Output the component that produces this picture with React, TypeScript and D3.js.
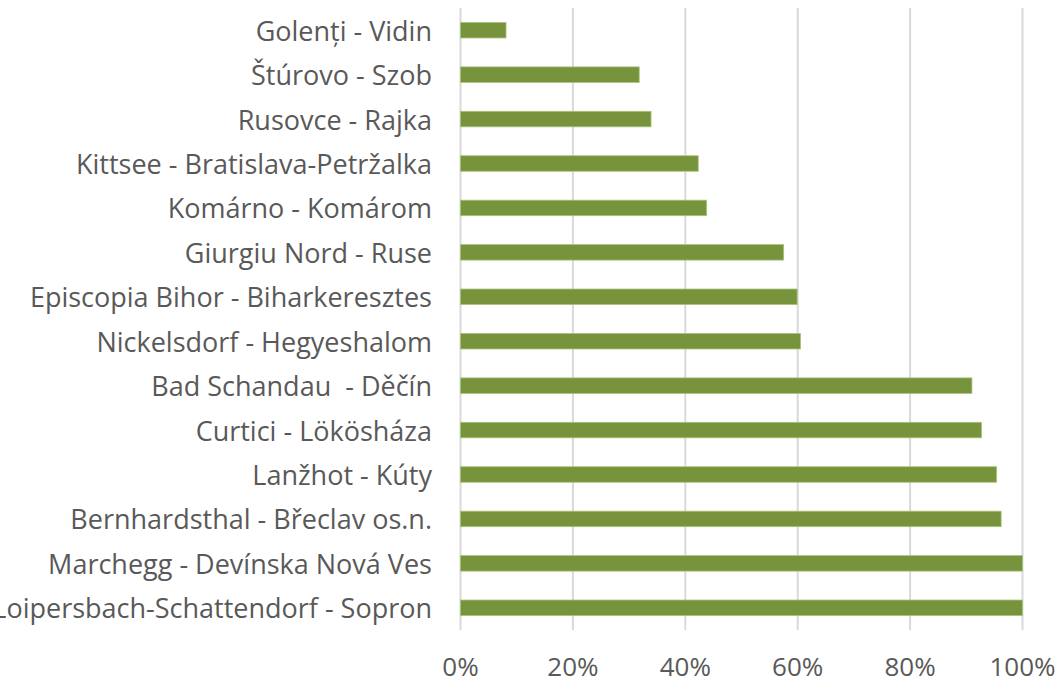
import React from "react";
import * as d3 from "d3";

const categories: string[] = [
  "Golenți - Vidin",
  "Štúrovo - Szob",
  "Rusovce - Rajka",
  "Kittsee - Bratislava-Petržalka",
  "Komárno - Komárom",
  "Giurgiu Nord - Ruse",
  "Episcopia Bihor - Biharkeresztes",
  "Nickelsdorf - Hegyeshalom",
  "Bad Schandau  - Děčín",
  "Curtici - Lökösháza",
  "Lanžhot - Kúty",
  "Bernhardsthal - Břeclav os.n.",
  "Marchegg - Devínska Nová Ves",
  "Loipersbach-Schattendorf - Sopron",
];

const values: number[] = [
  0.081, 0.318, 0.339, 0.423, 0.438, 0.575, 0.599, 0.605, 0.91, 0.927, 0.954,
  0.962, 1.0, 1.0,
];

const ticks: number[] = [0, 0.2, 0.4, 0.6, 0.8, 1.0];

const W = 1061;
const H = 683;
const FONT = "'Open Sans', sans-serif";
const TEXT = "#595959";

export default function App() {
  const x = d3.scaleLinear().domain([0, 1]).range([460.5, 1022.5]);
  const y = d3
    .scaleBand<string>()
    .domain(categories)
    .range([8, 630])
    .paddingInner(0.655)
    .paddingOuter(0.3275);
  const fmt = d3.format(".0%");
  const bh = 15.5;

  return (
    <svg
      width={W}
      height={H}
      style={{ position: "absolute", left: 0, top: 0, background: "#fff" }}
    >
      {ticks.map((t) => (
        <line
          key={"g" + t}
          x1={x(t)}
          x2={x(t)}
          y1={8}
          y2={630}
          stroke="#d9d9d9"
          strokeWidth={2}
        />
      ))}
      {categories.map((c, i) => {
        const cy = (y(c) as number) + y.bandwidth() / 2;
        return (
          <g key={c}>
            <rect
              x={x(0)}
              y={cy - bh / 2}
              width={x(values[i]) - x(0)}
              height={bh}
              fill="#77933C"
              stroke="#a9c27c"
              strokeWidth={0.8}
            />
            <text
              x={432}
              y={cy}
              textAnchor="end"
              dominantBaseline="central"
              fontFamily={FONT}
              fontSize={27}
              fill={TEXT}
              style={{ whiteSpace: "pre" }}
            >
              {c}
            </text>
          </g>
        );
      })}
      {ticks.map((t) => (
        <text
          key={"t" + t}
          x={x(t)}
          y={666}
          textAnchor="middle"
          dominantBaseline="central"
          fontFamily={FONT}
          fontSize={26}
          fill={TEXT}
        >
          {fmt(t)}
        </text>
      ))}
    </svg>
  );
}
